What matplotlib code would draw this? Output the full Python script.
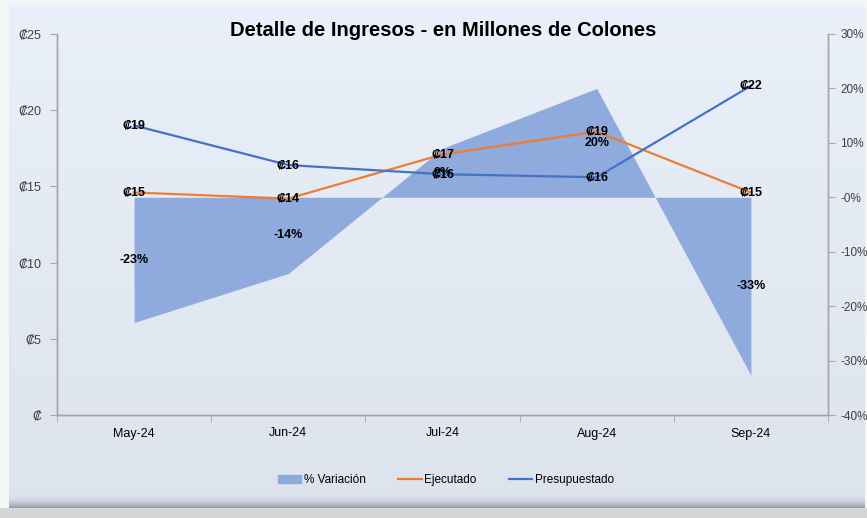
import numpy as np
import matplotlib.pyplot as plt
from matplotlib.patches import Patch
from matplotlib.lines import Line2D
from matplotlib.ticker import FuncFormatter, PercentFormatter

plt.rcParams['font.family'] = ['Liberation Sans', 'DejaVu Sans']
plt.rcParams['axes.unicode_minus'] = False

# --- data (millones de colones) ---
months = ['May-24', 'Jun-24', 'Jul-24', 'Aug-24', 'Sep-24']
ejecutado = [14.6, 14.2, 17.1, 18.6, 14.6]
presupuestado = [19.0, 16.4, 15.8, 15.6, 21.6]
variacion = [-0.23, -0.14, 0.09, 0.20, -0.327]

c_area = '#8FAADC'
c_ejec = '#ED7D31'
c_pres = '#4472C4'
c_axis = '#A6A6A6'
c_text = '#404040'

W, H = 867, 518
fig = plt.figure(figsize=(W / 100, H / 100), dpi=100)
fig.patch.set_facecolor('#D4D4D4')

# --- background frame with gradient ---
bg = fig.add_axes([0, 0, 1, 1], zorder=-10)
bg.axis('off')
bg.add_patch(plt.Rectangle((0, 0), W, 507, color='#F4F5F7'))
grad = np.linspace(0, 1, 256)[:, None]
top = np.array([0.918, 0.941, 0.976])
bot = np.array([0.867, 0.894, 0.929])
img = np.repeat(top + (bot - top) * grad[..., None], 2, axis=1)
bg.imshow(img, extent=[9, 865, 495, 4], aspect='auto', zorder=1)
shade = np.linspace(0, 1, 64)[:, None]
sh_img = bot + (np.array([0.58, 0.61, 0.65]) - bot) * shade[..., None] ** 2
sh_img = np.repeat(sh_img, 2, axis=1)
bg.imshow(sh_img, extent=[9, 865, 508, 494], aspect='auto', zorder=1)
bg.set_xlim(0, W)
bg.set_ylim(H, 0)

# --- main axes: percent area (right scale) under lines (left scale) ---
ax = fig.add_axes([57 / W, 1 - 415 / H, (828 - 57) / W, (415 - 34) / H])
ax.set_facecolor('none')
x = np.arange(len(months))

ax.fill_between(x, 0, variacion, color=c_area, lw=0, zorder=1)
ax.set_ylim(-0.4, 0.3)
ax.set_yticks(np.arange(-0.4, 0.31, 0.1))
ax.yaxis.set_major_formatter(PercentFormatter(1.0, decimals=0))
ax.set_xlim(-0.5, len(months) - 0.5)
ax.set_xticks(x)
ax.set_xticklabels(months)
ax.set_xticks(np.arange(-0.5, len(months)), minor=True)
ax.tick_params(axis='x', which='major', length=0, pad=9, labelsize=9, labelcolor='black')
ax.tick_params(axis='x', which='minor', length=5, color=c_axis, direction='out')

for xi, v in zip(x, variacion):
    ax.text(xi, v / 2, f'{v:.0%}', ha='center', va='center', fontsize=9,
            fontweight='bold', zorder=5)

ax2 = ax.twinx()
ax2.plot(x, ejecutado, color=c_ejec, lw=1.6, zorder=3)
ax2.plot(x, presupuestado, color=c_pres, lw=1.6, zorder=3)
ax2.set_ylim(0, 25)
ax2.set_yticks(np.arange(0, 26, 5))
ax2.yaxis.set_major_formatter(FuncFormatter(lambda v, p: '\u20a1' if v == 0 else f'\u20a1{v:.0f}'))

# swap sides: percentages on the right, colones on the left
ax.yaxis.tick_right()
ax.yaxis.set_label_position('right')
ax2.yaxis.tick_left()
ax2.yaxis.set_label_position('left')
ax.tick_params(axis='y', length=5, color=c_axis, labelsize=8.5, labelcolor=c_text, pad=4)
ax2.tick_params(axis='y', length=5, color=c_axis, labelsize=9, labelcolor=c_text, pad=6)

for serie in (ejecutado, presupuestado):
    for xi, v in zip(x, serie):
        ax2.text(xi, v, f'\u20a1{v:.0f}', ha='center', va='center', fontsize=9,
                 fontweight='bold', zorder=6)

for a in (ax, ax2):
    a.spines['top'].set_visible(False)
    for s in ('left', 'right', 'bottom'):
        a.spines[s].set_color(c_axis)
        a.spines[s].set_linewidth(1.0)

fig.text(443 / W, 1 - 30 / H, 'Detalle de Ingresos - en Millones de Colones',
         ha='center', va='center', fontsize=14.5, fontweight='bold')

handles = [Patch(color=c_area, label='% Variaci\u00f3n'),
           Line2D([], [], color=c_ejec, lw=1.6, label='Ejecutado'),
           Line2D([], [], color=c_pres, lw=1.6, label='Presupuestado')]
fig.legend(handles=handles, loc='center', bbox_to_anchor=(446 / W, 1 - 480 / H),
           ncol=3, frameon=False, fontsize=8.5, handlelength=2.0, handletextpad=0.25,
           columnspacing=2.7)

fig.savefig('out.png', dpi=100, facecolor=fig.get_facecolor())
